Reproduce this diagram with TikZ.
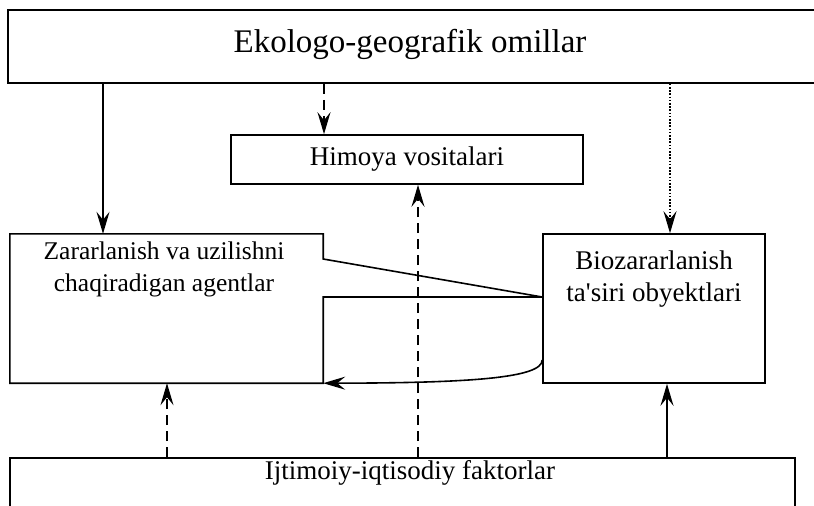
\documentclass[tikz,border=0pt]{standalone}
\usepackage{fontspec}
\setmainfont{Liberation Serif}[Ligatures=TeXOff]
\usetikzlibrary{arrows.meta}
\tikzset{
  box/.style={draw, line width=1.6pt, rectangle, inner sep=0pt},
  blank/.style={rectangle, inner sep=0pt},
  lbl/.style={align=center, inner sep=0pt},
  conn/.style={line width=1.6pt, -{Stealth[length=22pt,width=13pt,inset=8pt]}},
  dsh/.style={dash pattern=on 10pt off 6pt},
  dtt/.style={dash pattern=on 1.6pt off 1.6pt, line width=1.4pt},
  bigfont/.style={font=\fontsize{33}{38}\selectfont},
  txt/.style={font=\fontsize{27}{32}\selectfont},
  txtl/.style={font=\fontsize{25.5}{32}\selectfont},
}
\begin{document}
\begin{tikzpicture}[x=1pt,y=-1pt]
\useasboundingbox (0,0) rectangle (814,506);
\fill[white] (0,0) rectangle (814,506);
% boxes
\node[box, minimum width=812pt, minimum height=73pt] (top) at (414,46.5) {};
\node[lbl, bigfont] (toptxt) at (410,44) {Ekologo-geografik omillar};
\node[box, minimum width=352pt, minimum height=49pt, txt] (himoya) at (407,159.5) {Himoya vositalari};
\node[blank, minimum width=313pt, minimum height=149pt] (agent) at (166.5,308.5) {};
\node[lbl, txtl, anchor=north] (agenttxt) at (164,242) {Zararlanish va uzilishni\\chaqiradigan agentlar};
\node[box, minimum width=222pt, minimum height=149pt] (bio) at (654,308.5) {};
\node[lbl, txt] (biotxt) at (654,279) {Biozararlanish\\ta'siri obyektlari};
\node[box, minimum width=785pt, minimum height=70pt] (bottom) at (402.5,493) {};
\node[lbl, txt] (bottomtxt) at (410,473) {Ijtimoiy-iqtisodiy faktorlar};
% callout-shaped left box
\coordinate (tip) at (bio.west |- 0,297);
\draw[line width=1.6pt, line join=miter]
  (agent.north west) -- (agent.north east) -- (agent.north east |- 0,259) -- (tip)
  -- (agent.east |- 0,297) -- (agent.south east) -- (agent.south west) -- cycle;
% connectors from top
\draw[conn] (top.south -| 103,0) -- (agent.north -| 103,0);
\draw[conn, dsh] (top.south -| 324,0) -- (himoya.north -| 324,0);
\draw[conn, dtt] (top.south -| 670,0) -- (bio.north -| 670,0);
% connectors from bottom
\draw[conn, dsh] (bottom.north -| 167,0) -- (agent.south -| 167,0);
\draw[conn, dsh] (bottom.north -| 418,0) -- (himoya.south -| 418,0);
\draw[conn] (bottom.north -| 667,0) -- (bio.south -| 667,0);
% curved arrow
\coordinate (cs) at (bio.west |- 0,360);
\draw[conn] (cs) .. controls (bio.west |- 0,378) and (470,383) .. (agent.south east);
\end{tikzpicture}
\end{document}
